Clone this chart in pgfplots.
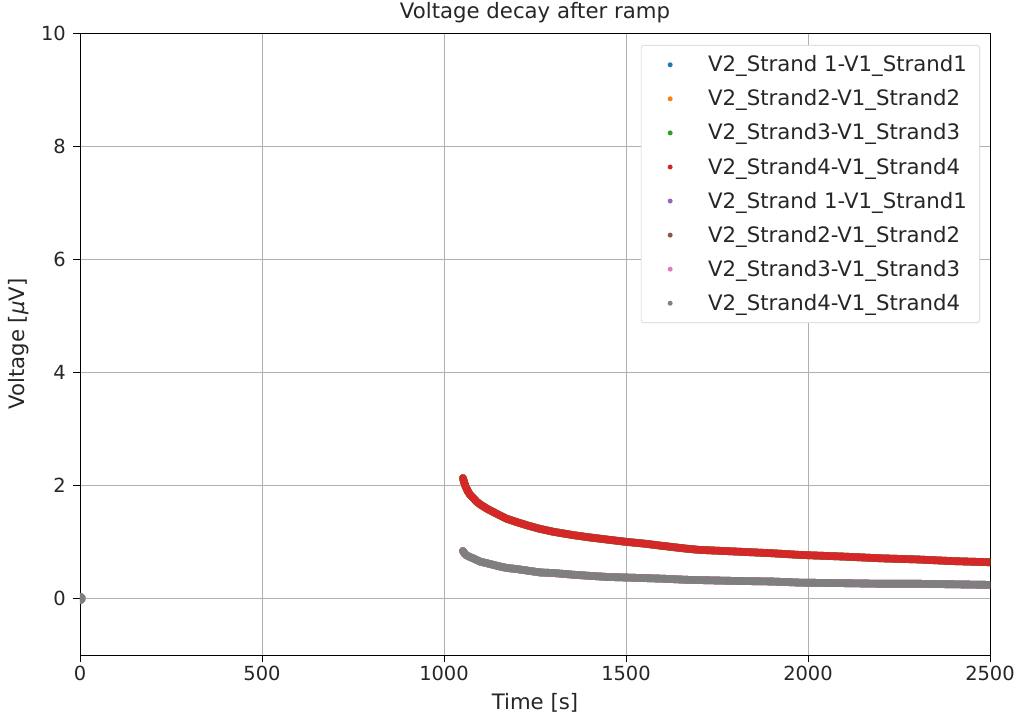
\documentclass[border=0pt]{standalone}
\usepackage{fontspec}
\setmainfont{DejaVu Sans}
\usepackage{pgfplots}
\usepackage{pgfplotstable}
\pgfplotsset{compat=1.18}
\definecolor{c0}{HTML}{1F77B4}
\definecolor{c1}{HTML}{FF7F0E}
\definecolor{c2}{HTML}{2CA02C}
\definecolor{c3}{HTML}{D62728}
\definecolor{c4}{HTML}{9467BD}
\definecolor{c5}{HTML}{8C564B}
\definecolor{c6}{HTML}{E377C2}
\definecolor{c7}{HTML}{7F7F7F}
\pgfplotstableread{
t V
1052 2.13
1056 2.04
1060 1.97
1066 1.89
1072 1.83
1080 1.78
1090 1.71
1100 1.66
1115 1.60
1126 1.56
1150 1.48
1172 1.41
1200 1.35
1230 1.29
1264 1.23
1300 1.18
1355 1.12
1400 1.08
1450 1.04
1502 1.00
1550 0.97
1600 0.93
1667 0.88
1700 0.86
1800 0.83
1900 0.80
1978 0.77
2100 0.74
2200 0.71
2300 0.69
2400 0.66
2500 0.64
}\upperdata
\pgfplotstableread{
t V
1052 0.84
1056 0.80
1060 0.77
1066 0.75
1072 0.73
1080 0.71
1090 0.68
1100 0.65
1126 0.61
1150 0.57
1172 0.54
1200 0.52
1264 0.46
1300 0.45
1355 0.42
1400 0.40
1450 0.38
1502 0.37
1600 0.35
1667 0.33
1800 0.31
1900 0.30
1978 0.28
2100 0.27
2200 0.26
2300 0.26
2400 0.25
2500 0.24
}\lowerdata
\pgfplotstableread{
t V
0 0
}\origindata
\begin{document}
\begin{tikzpicture}
\begin{axis}[
  scale only axis,
  width=655.2pt, height=447.8pt,
  xmin=0, xmax=2500, ymin=-1, ymax=10,
  xtick={0,500,1000,1500,2000,2500},
  ytick={0,2,4,6,8,10},
  /pgf/number format/assume math mode=true,
  /pgf/number format/set thousands separator={},
  tick align=outside,
  major tick length=4.7pt,
  tick style={black, line width=0.6pt},
  xtick pos=bottom, ytick pos=left,
  axis line style={black, line width=0.7pt},
  grid=major,
  major grid style={color=black!31, line width=0.6pt},
  tick label style={font=\fontsize{14}{16}\selectfont, text=black!85},
  yticklabel style={xshift=-2pt},
  xlabel={Time [s]},
  ylabel={Voltage [{\itshape μ}V]},
  title={Voltage decay after ramp},
  every axis title/.style={at={(0.5,1)}, anchor=center, yshift=14.5pt, font=\fontsize{15.3}{18}\selectfont, text=black!85},
  every axis x label/.style={at={(axis description cs:0.5,0)}, anchor=center, yshift=-34.6pt, font=\fontsize{15.3}{18}\selectfont, text=black!85},
  every axis y label/.style={at={(axis description cs:0,0.5)}, rotate=90, anchor=center, yshift=44pt, font=\fontsize{15.3}{18}\selectfont, text=black!85},
  legend style={at={(axis description cs:1,1)}, anchor=north east, xshift=-7.2pt, yshift=-8.6pt,
    font=\fontsize{15.3}{18}\selectfont, text=black!85, draw=black!18, rounded corners=2pt,
    row sep=9.4pt, inner xsep=8.3pt, inner ysep=6.5pt,
    nodes={inner sep=1pt}},
  legend cell align=left,
  legend image code/.code={\fill[#1, draw=none] (9.9pt,0pt) circle (1.8pt); \path (0pt,0pt) (33.5pt,0pt);},
  every axis plot/.append style={line width=5.5pt, line cap=round, line join=round},
  clip=true,
  clip marker paths=true,
]
\addplot[c0] table[x=t,y=V] {\upperdata};
\addlegendentry{V2\_Strand 1-V1\_Strand1}
\addplot[c1] table[x=t,y=V] {\upperdata};
\addlegendentry{V2\_Strand2-V1\_Strand2}
\addplot[c2] table[x=t,y=V] {\upperdata};
\addlegendentry{V2\_Strand3-V1\_Strand3}
\addplot[c3] table[x=t,y=V] {\upperdata};
\addlegendentry{V2\_Strand4-V1\_Strand4}
\addplot[c4] table[x=t,y=V] {\lowerdata};
\addlegendentry{V2\_Strand 1-V1\_Strand1}
\addplot[c5] table[x=t,y=V] {\lowerdata};
\addlegendentry{V2\_Strand2-V1\_Strand2}
\addplot[c6] table[x=t,y=V] {\lowerdata};
\addlegendentry{V2\_Strand3-V1\_Strand3}
\addplot[c7] table[x=t,y=V] {\lowerdata};
\addlegendentry{V2\_Strand4-V1\_Strand4}
\addplot[c7, only marks, mark=*, mark size=1.5pt, forget plot] table[x=t,y=V] {\origindata};
\coordinate (bl) at (rel axis cs:0,0);
\coordinate (tr) at (rel axis cs:1,1);
\end{axis}
\pgfresetboundingbox
\path ([shift={(-57.6pt,-43.9pt)}]bl) rectangle ([shift={(18pt,23.8pt)}]tr);
\end{tikzpicture}
\end{document}
